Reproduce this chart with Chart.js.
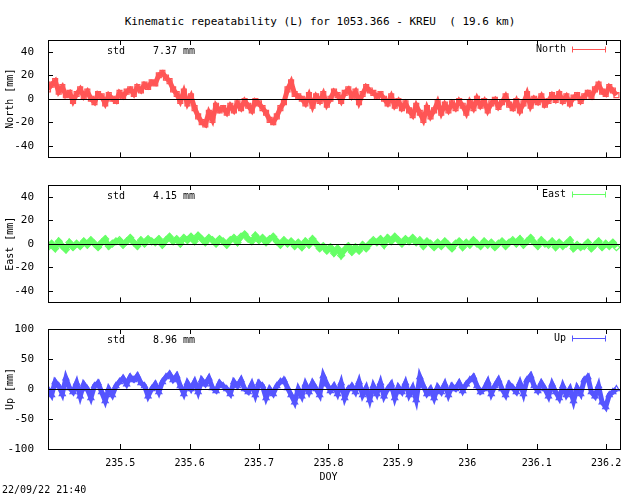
<!DOCTYPE html>
<html><head><meta charset="utf-8">
<script src="https://cdn.jsdelivr.net/npm/chart.js@4"></script>
<style>
body{margin:0;background:#fff;width:640px;height:496px;position:relative;overflow:hidden;font-family:"DejaVu Sans Mono",monospace}
.p{position:absolute;left:0;width:640px}
#t{position:absolute;top:15px;left:0;width:640px;text-align:center;font-size:11px;white-space:pre}
#ts{position:absolute;left:2px;top:484px;font-size:10px}
</style></head><body>
<div id="t">Kinematic repeatability (L) for 1053.366 - KREU  ( 19.6 km)</div>
<div class="p" style="top:0;height:170px"><canvas id="c1"></canvas></div>
<div class="p" style="top:170px;height:145px"><canvas id="c2"></canvas></div>
<div class="p" style="top:315px;height:181px"><canvas id="c3"></canvas></div>
<div id="ts">22/09/22 21:40</div>
<script>
const doyStart = 235.396, doyStep = 0.00515;
const xTicks = [235.5,235.6,235.7,235.8,235.9,236,236.1,236.2];
const xTickLabels = ['235.5','235.6','235.7','235.8','235.9','236','236.1','236.2'];
const neTicks = [-40,-20,0,20,40];
const upTicks = [-100,-50,0,50,100];
const northVals = [8,12,15,6,10,3,5,-2,4,8,2, 6,0,-3,4,2,-4,3,0,-2,5, 2,6,8,4,10,7,12,10,14,13, 20,22,18,15,8,4,-2,6,-4,2, -8,-15,-20,-22,-12,-18,-6,-10,-8,-12, -6,-10,-4,-8,-2,-6,-10,-2,-4,-8, -12,-18,-20,-15,-8,-3,8,14,4,2, 0,-4,3,-6,2,-2,4,-5,0,6, 3,-2,5,8,2,6,-3,4,10,7, 5,2,4,0,-4,2,-6,-2,-8,-4, -10,-14,-6,-12,-18,-8,-15,-10,-3,-12, -5,-10,-4,-8,-2,-6,-12,-3,-8,0, -6,-2,-10,-4,-1,-7,-3,2,-5,-8, -2,-10,-4,4,-6,0,-3,2,-5,-2, 3,-1,4,-2,2,-4,1,3,-2,2, 5,2,8,12,6,4,10,7,3];
const eastVals = [-3,0,-4,2,-2,-5,1,-3,0,-2, 2,-1,3,0,-3,1,4,-2,0,2, 3,-1,2,5,1,-2,3,0,4,2, 1,4,-1,3,6,2,4,0,5,3, 6,2,7,4,1,5,3,0,4,2, -1,3,5,1,6,8,4,2,7,3, 5,1,4,6,2,-1,3,0,2,-2, 1,-3,2,-1,4,0,-4,-2,-6,-3, -8,-4,-10,-5,-2,-7,-3,-6,-1,-4, 0,3,1,4,-1,5,2,6,3,0, 4,2,5,1,3,-2,2,0,-3,1, -2,2,-1,-4,0,2,-3,1,-1,3, 0,-2,2,-1,1,-3,0,2,-2,1, 3,0,4,-1,2,5,1,-2,3,0, -1,2,-3,1,-2,0,3,-4,-1,-3, -2,1,-4,-1,2,-3,0,-2,1,-3];
const upVals = [0,-10,12,5,-8,18,2,-5,10,-12, 8,0,-15,5,10,-5,-20,0,-10,5, 12,18,8,20,15,22,10,5,-12,0, 8,-5,12,20,25,15,22,5,-8,10, 0,12,-5,15,8,18,2,-3,10,5, 0,-8,12,5,15,0,-5,8,-10,10, 5,-15,0,-8,5,12,15,2,-10,-22, 0,-12,8,-5,10,0,-10,22,8,-3, 5,-8,10,-15,0,5,-5,12,-10,2, -18,5,-8,10,-12,0,8,-15,3,-5, 10,-10,2,-18,20,5,-8,0,-15,3, -5,8,-10,5,0,10,-3,8,15,20, 5,-5,0,12,-8,5,15,0,-10,8, 2,-5,10,-8,15,22,5,-3,10,0, -12,8,-5,-15,5,-10,0,-20,2,-8, 15,20,-5,-12,5,-22,-30,-10,-5,0];
const FONT = {family:'"DejaVu Sans Mono", monospace', size:11};

function mk(id, vals, color, style, name, std, ymin, ymax, yt, ytitle, padTop, showX){
  const pts = vals.map((v,i)=>({x:doyStart+i*doyStep, y:v}));
  const deco = {id:'deco'+id, afterDatasetsDraw(ch){
    const c=ch.ctx, a=ch.chartArea, xs=ch.scales.x, ys=ch.scales.y;
    c.save(); c.strokeStyle='#000'; c.lineWidth=1;
    const y0=Math.round(ys.getPixelForValue(0))+0.5;
    c.beginPath(); c.moveTo(a.left,y0); c.lineTo(a.right,y0); c.stroke();
    c.strokeRect(Math.round(a.left)+0.5,Math.round(a.top)+0.5,Math.round(a.right-a.left),Math.round(a.bottom-a.top));
    c.beginPath();
    yt.forEach(v=>{const y=Math.round(ys.getPixelForValue(v))+0.5;
      c.moveTo(a.left,y);c.lineTo(a.left+5,y);c.moveTo(a.right,y);c.lineTo(a.right-5,y);});
    xTicks.forEach(t=>{const x=Math.round(xs.getPixelForValue(t))+0.5;
      c.moveTo(x,a.bottom);c.lineTo(x,a.bottom-5);c.moveTo(x,a.top);c.lineTo(x,a.top+5);});
    c.stroke();
    c.fillStyle='#000'; c.font='10px "DejaVu Sans Mono", monospace'; c.textBaseline='middle';
    c.fillText('std', 107, a.top+11); c.fillText(std+' mm', 153, a.top+11);
    if(showX){ c.textAlign='center';
      xTicks.forEach((t,i)=>c.fillText(xTickLabels[i], xs.getPixelForValue(t), a.bottom+14));
      c.fillText('DOY', xs.getPixelForValue(235.8), a.bottom+28);
      c.textAlign='left'; }
    c.textAlign='right'; c.fillText(name, 566, a.top+9);
    c.strokeStyle=color; c.beginPath(); const ly=Math.round(a.top+9)+0.5;
    c.moveTo(572,ly);c.lineTo(606,ly);c.moveTo(572.5,ly-3);c.lineTo(572.5,ly+3);c.moveTo(605.5,ly-3);c.lineTo(605.5,ly+3);c.stroke();
    c.restore();
  }};
  new Chart(document.getElementById(id), {
    type:'line',
    data:{datasets:[{data:pts, borderColor:color, backgroundColor:color, borderWidth:5,
      pointStyle:style, pointRadius:3.5, pointBorderWidth:1.2, pointBackgroundColor:'rgba(0,0,0,0)', tension:0}]},
    options:{responsive:true, maintainAspectRatio:false, animation:false,
      layout:{padding:{top:padTop,right:20,left:0,bottom:showX?47:10}},
      plugins:{legend:{display:false},tooltip:{enabled:false}},
      scales:{
        x:{type:'linear', min:235.396, max:236.22, display:false},
        y:{min:ymin, max:ymax, grid:{display:false}, border:{display:false},
          afterBuildTicks(s){s.ticks=yt.map(v=>({value:v}));},
          ticks:{color:'#000', font:FONT, padding:6, autoSkip:false},
          afterFit(s){s.width=48;},
          title:{display:true, text:ytitle, color:'#000', font:{family:FONT.family,size:10}, padding:{bottom:2}}}
      }},
    plugins:[deco]
  });
}
mk('c1', northVals, '#ff5555', 'rect', 'North', '7.37', -50, 50, neTicks, 'North [mm]', 40, false);
mk('c2', eastVals, '#66ff66', 'rectRot', 'East', '4.15', -50, 50, neTicks, 'East [mm]', 15, false);
mk('c3', upVals, '#5555ff', 'triangle', 'Up', '8.96', -100, 100, upTicks, 'Up [mm]', 14, true);
</script></body></html>
